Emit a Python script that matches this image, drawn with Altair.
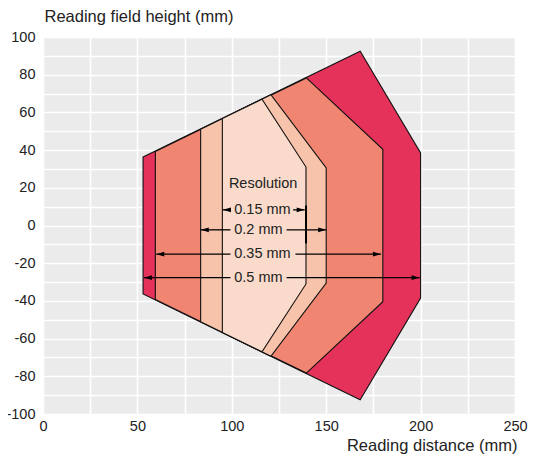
import altair as alt
import pandas as pd

# Reading field zones (outer to inner), symmetric about y = 0
zone_names = ["0.5 mm", "0.35 mm", "0.2 mm", "0.15 mm"]
zone_colors = ["#E5325A", "#F08672", "#F8C3AB", "#FADBCB"]
zone_x = [[53, 168, 200], [59.5, 139.5, 180], [83.5, 120.7, 150], [95, 116, 139.3]]
zone_top = [[36.3, 92.5, 38.5], [39.2, 78.3, 40.4], [51, 69.4, 30.5], [56.7, 67, 31]]

# Resolution arrows
res_labels = ["0.15 mm", "0.2 mm", "0.35 mm", "0.5 mm"]
arrow_y = [8.3, -2.3, -15.2, -27.7]
arrow_left = [95.3, 83.6, 60.0, 53.5]
arrow_right = [138.6, 150, 179, 199.5]
gap_left = [99.3, 99.3, 99.3, 99.3]
gap_right = [132.5, 129, 133.7, 129]
label_x = [101.3, 101.3, 101.3, 101.3]

title_text = ["Resolution"]
title_x = [116.6]
title_y = [22.1]

marker_x = [139.3]
marker_y = [10.6]
marker_y2 = [-9.5]

x_ticks = list(range(0, 251, 25))
y_ticks = list(range(-100, 101, 10))

FONT = "Liberation Sans"
W = 472

xaxis = alt.Axis(values=x_ticks, labelExpr="datum.value % 50 == 0 ? '' + datum.value : ''",
                 title="Reading distance (mm)", titleAlign="right", titleX=W + 2, titleY=36,
                 titleBaseline="alphabetic", labelPadding=5, labelFlush=False)
yaxis = alt.Axis(values=y_ticks, labelExpr="datum.value % 20 == 0 ? '' + datum.value : ''",
                 title="Reading field height (mm)", titleAngle=0, titleAlign="left", titleX=1,
                 titleY=-15.5, titleBaseline="alphabetic", labelPadding=8)
xscale = alt.Scale(domain=[0, 250], nice=False, zero=False)
yscale = alt.Scale(domain=[-100, 100], nice=False, zero=False)


def X(f):
    return alt.X(f, type="quantitative", scale=xscale, axis=xaxis)


def Y(f):
    return alt.Y(f, type="quantitative", scale=yscale, axis=yaxis)


layers = []
for name, col, xs, ts in zip(zone_names, zone_colors, zone_x, zone_top):
    d = pd.DataFrame({"x": xs, "top": ts})
    d["bottom"] = -d["top"]
    layers.append(
        alt.Chart(d).mark_area(color=col, fillOpacity=1, stroke="#111", strokeWidth=1.1)
        .encode(x=X("x"), y=Y("top"), y2="bottom")
    )

arr = pd.DataFrame({"label": res_labels, "y": arrow_y, "xl": arrow_left, "xr": arrow_right,
                    "gl": gap_left, "gr": gap_right, "lx": label_x})

seg_left = alt.Chart(arr).mark_rule(color="black", strokeWidth=1.3).encode(
    x=X("xl"), x2="gl", y=Y("y"))
seg_right = alt.Chart(arr).mark_rule(color="black", strokeWidth=1.3).encode(
    x=X("gr"), x2="xr", y=Y("y"))
head_left = alt.Chart(arr).mark_point(shape="M0,0L2,-0.6L2,0.6Z", size=64, filled=True,
                                      color="black", opacity=1, strokeWidth=0).encode(
    x=X("xl"), y=Y("y"))
head_right = alt.Chart(arr).mark_point(shape="M0,0L-2,-0.6L-2,0.6Z", size=64, filled=True,
                                       color="black", opacity=1, strokeWidth=0).encode(
    x=X("xr"), y=Y("y"))
labels = alt.Chart(arr).mark_text(align="left", baseline="middle", font=FONT, fontSize=14.5,
                                  color="#222").encode(x=X("lx"), y=Y("y"), text="label")

tdf = pd.DataFrame({"t": title_text, "x": title_x, "y": title_y})
res_title = alt.Chart(tdf).mark_text(align="center", baseline="middle", font=FONT, fontSize=14.5,
                                     color="#222").encode(x=X("x"), y=Y("y"), text="t")

mdf = pd.DataFrame({"x": marker_x, "y": marker_y, "y2": marker_y2})
marker = alt.Chart(mdf).mark_rule(color="black", strokeWidth=2).encode(x=X("x"), y=Y("y"), y2="y2")

chart = alt.layer(*layers, seg_left, seg_right, head_left, head_right, labels, res_title, marker).properties(
    width=W, height=377,
    autosize=alt.AutoSizeParams(type="none"),
    padding={"left": 35, "top": 29, "right": 14, "bottom": 41},
).configure_view(fill="#EBEBEB", stroke=None).configure_axis(
    grid=True, gridColor="white", gridWidth=1.6, domain=False, ticks=False,
    labelFont=FONT, labelFontSize=14.5, labelColor="#222",
    titleFont=FONT, titleFontSize=16.5, titleFontWeight="normal", titleColor="#222",
)

chart.save("out.html", embed_options={"renderer": "svg", "actions": False})
